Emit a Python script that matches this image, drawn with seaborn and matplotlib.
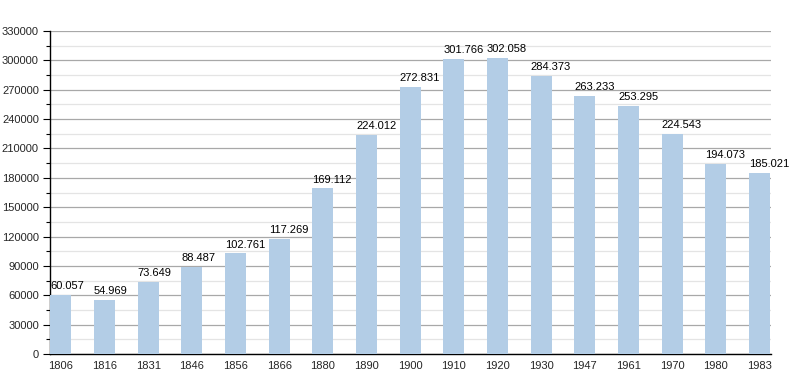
import matplotlib
matplotlib.use("Agg")
import matplotlib.pyplot as plt
import seaborn as sns
import pandas as pd
from matplotlib.ticker import MultipleLocator

years = ["1806", "1816", "1831", "1846", "1856", "1866", "1880", "1890", "1900",
         "1910", "1920", "1930", "1947", "1961", "1970", "1980", "1983"]
population = [60057, 54969, 73649, 88487, 102761, 117269, 169112, 224012, 272831,
              301766, 302058, 284373, 263233, 253295, 224543, 194073, 185021]
value_labels = ["60.057", "54.969", "73.649", "88.487", "102.761", "117.269", "169.112",
                "224.012", "272.831", "301.766", "302.058", "284.373", "263.233",
                "253.295", "224.543", "194.073", "185.021"]

sns.set_style("white")
plt.rcParams["font.family"] = ["Liberation Sans", "DejaVu Sans"]

df = pd.DataFrame({"year": years, "pop": population})

fig = plt.figure(figsize=(8, 3.83), dpi=100)
ax = fig.add_axes([0.0625, 0.0757, 0.9015, 0.8433])

sns.barplot(data=df, x="year", y="pop", color="#b3cde6", width=0.48,
            saturation=1, ax=ax, zorder=3, edgecolor="none", linewidth=0)

ax.set_ylim(0, 330000)
ax.set_xlim(-0.25, 16.27)
ax.yaxis.set_major_locator(MultipleLocator(30000))
ax.yaxis.set_minor_locator(MultipleLocator(15000))
ax.grid(which="major", axis="y", color="#a8a8a8", linewidth=0.9, zorder=0)
ax.grid(which="minor", axis="y", color="#e4e4e4", linewidth=0.9, zorder=0)
ax.set_axisbelow(True)

for s in ["top", "right"]:
    ax.spines[s].set_visible(False)
for s in ["left", "bottom"]:
    ax.spines[s].set_color("black")
    ax.spines[s].set_linewidth(1.0)

ax.tick_params(axis="y", which="major", length=5, width=0.8, color="black",
               labelsize=8, pad=3, left=True)
ax.tick_params(axis="y", which="minor", length=3, width=0.8, color="black", left=True)
ax.tick_params(axis="x", length=0, labelsize=8, pad=5)
ax.set_xlabel("")
ax.set_ylabel("")

for p, lab in zip(ax.patches, value_labels):
    ax.text(p.get_x(), p.get_height() + 4000, lab, ha="left", va="bottom",
            fontsize=8, color="black", zorder=5)

fig.savefig("out.png", dpi=100)
